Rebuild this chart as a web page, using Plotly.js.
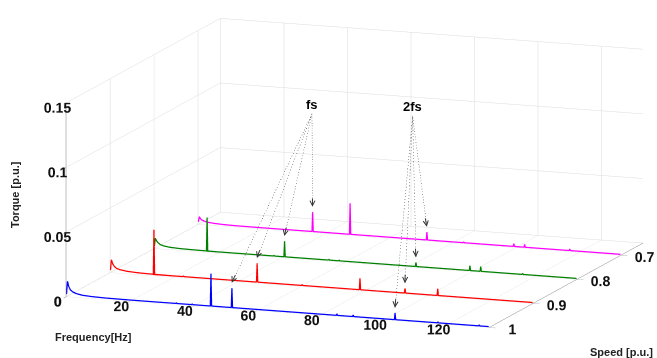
<!DOCTYPE html>
<html><head><meta charset="utf-8">
<script src="https://cdn.plot.ly/plotly-3.0.1.min.js"></script>
<style>html,body{margin:0;padding:0;background:#fff}#chart{width:657px;height:358px}</style>
</head><body><div id="chart"></div>
<script>
// ---- data ----
const speeds = [1.0, 0.9, 0.8, 0.7];
const colors = ['#0000ff', '#ff0000', '#008000', '#ff00ff'];
// low-frequency tail (Hz, torque) for each speed
const tailFreq = [0, 0.3, 0.7, 1.2, 2, 3, 5, 8, 12, 20];
const tailBlue    = [0.002, 0.012, 0.008, 0.0055, 0.004, 0.003, 0.002, 0.0015, 0.0012, 0.001];
const tailRed     = [0.002, 0.010, 0.007, 0.005, 0.0035, 0.0028, 0.002, 0.0015, 0.0012, 0.001];
const tailGreen   = [0.002, 0.008, 0.006, 0.0045, 0.0032, 0.0025, 0.0018, 0.0014, 0.0012, 0.001];
const tailMagenta = [0.002, 0.006, 0.0045, 0.0035, 0.0028, 0.0022, 0.0017, 0.0013, 0.0011, 0.001];
const baseEnd = [0.0007, 0.0007, 0.0007, 0.0007];   // floor level at 133 Hz
// spectral lines (Hz) and their torque peaks (p.u.)
const peakFreqBlue    = [34.6, 39.6, 45.5, 52.1, 85.2, 90.3, 103.5, 117, 130];
const peakTorqBlue    = [0.0015, 0.0015, 0.026, 0.016, 0.002, 0.002, 0.006, 0.0015, 0.0015];
const peakFreqRed     = [13.7, 23, 46.2, 60.4, 78.6, 92.8, 103.1];
const peakTorqRed     = [0.0356, 0.0015, 0.0155, 0.0015, 0.0097, 0.0044, 0.006];
const peakFreqGreen   = [16.6, 37.7, 41, 55, 58.2, 82.4, 99.4, 102.8, 116];
const peakTorqGreen   = [0.027, 0.0015, 0.013, 0.0015, 0.0015, 0.004, 0.0045, 0.0045, 0.0015];
const peakFreqMagenta = [36, 47.8, 72, 83.6, 99.4, 102.8, 117];
const peakTorqMagenta = [0.016, 0.025, 0.007, 0.0015, 0.003, 0.003, 0.002];
const fMax = 133;
// annotated components: index of the fs and 2fs line in each series
const fsIndex  = [3, 2, 2, 0];
const f2sIndex = [6, 5, 5, 2];
const fsLabel  = {f: 35.8, s: 0.7, t: 0.092};
const f2sLabel = {f: 67.5, s: 0.7, t: 0.096};
const xTicks = [0, 20, 40, 60, 80, 100, 120];
const yTicks = [0.7, 0.8, 0.9, 1];
const yTickText = ['0.7', '0.8', '0.9', '1'];
const zTicks = [0, 0.05, 0.1, 0.15];
const zTickText = ['0', '0.05', '0.1', '0.15'];

const tails = [tailBlue, tailRed, tailGreen, tailMagenta];
const pf = [peakFreqBlue, peakFreqRed, peakFreqGreen, peakFreqMagenta];
const pt = [peakTorqBlue, peakTorqRed, peakTorqGreen, peakTorqMagenta];

function floorAt(k, f) {
  const t = tails[k];
  const last = t[t.length - 1], lf = tailFreq[tailFreq.length - 1];
  if (f <= lf) return last;
  return last + (baseEnd[k] - last) * (f - lf) / (fMax - lf);
}

// Plotly x = speed, Plotly y = frequency, z = torque
const traces = [];
for (let k = 0; k < 4; k++) {
  const fs = tailFreq.slice(), zs = tails[k].slice();
  pf[k].forEach((f, i) => {
    const b = floorAt(k, f);
    fs.push(f - 0.2, f, f + 0.2); zs.push(b, pt[k][i], b);
  });
  fs.push(fMax); zs.push(baseEnd[k]);
  traces.push({type: 'scatter3d', mode: 'lines', y: fs, x: fs.map(() => speeds[k]), z: zs,
    line: {color: colors[k], width: 2.5}, hoverinfo: 'skip', showlegend: false});
}
// dotted leader lines
function leader(lbl, idx) {
  const X = [], Y = [], Z = [];
  for (let k = 0; k < 4; k++) {
    const f = pf[k][idx[k]], t = pt[k][idx[k]];
    Y.push(lbl.f, f, null); X.push(lbl.s, speeds[k], null); Z.push(lbl.t, t + 0.004, null);
  }
  return {type: 'scatter3d', mode: 'lines', x: X, y: Y, z: Z, connectgaps: false,
    line: {color: '#444', width: 1, dash: 'dot'}, hoverinfo: 'skip', showlegend: false};
}
traces.push(leader(fsLabel, fsIndex), leader(f2sLabel, f2sIndex));

const lblFont = {family: 'Liberation Sans', size: 13, color: '#000', weight: 'bold'};
const ann3d = [
  {y: fsLabel.f, x: fsLabel.s, z: fsLabel.t, text: 'fs', showarrow: false, yanchor: 'bottom', font: lblFont},
  {y: f2sLabel.f, x: f2sLabel.s, z: f2sLabel.t, text: '2fs', showarrow: false, yanchor: 'bottom', font: lblFont}
];
const fsDir  = [[4.2, -9.1], [3.4, -9.4], [2.1, -9.8], [0, -10]];
const f2sDir = [[0.9, -10], [0.3, -10], [-0.4, -10], [-1.7, -9.9]];
for (let k = 0; k < 4; k++) {
  [[fsIndex, fsDir], [f2sIndex, f2sDir]].forEach(([idx, dir]) => {
    ann3d.push({y: pf[k][idx[k]], x: speeds[k], z: pt[k][idx[k]] + 0.004, text: '', showarrow: true,
      arrowhead: 5, arrowsize: 1, arrowwidth: 1, arrowcolor: '#333', ax: dir[k][0], ay: dir[k][1]});
  });
}

const tickFont = {family: 'Liberation Sans', size: 13, color: '#111', weight: 'bold'};
const axBase = {showbackground: false, showgrid: true, gridcolor: '#dcdcdc', gridwidth: 1,
  zeroline: false, showline: true, linecolor: '#888', linewidth: 1, ticks: 'outside',
  tickcolor: '#888', ticklen: 7, tickfont: tickFont, tickangle: 0, showspikes: false, title: {text: ''}};

const titleFont = {family: 'Liberation Sans', size: 11, color: '#222', weight: 'bold'};
const layout = {
  width: 657, height: 358, margin: {l: 0, r: 0, t: 0, b: 0}, paper_bgcolor: '#fff',
  scene: {
    domain: {x: [0.03, 1], y: [0.045, 1]},
    aspectmode: 'manual', aspectratio: {x: 2.632, y: 2.632, z: 1.157},
    camera: {eye: {x: 1.781, y: 0.550, z: 0.392}, center: {x: 0.032, y: -0.088, z: 0.012}, up: {x: 0, y: 0, z: 1},
      projection: {type: 'orthographic'}},
    yaxis: Object.assign({}, axBase, {range: [-0.1, fMax + 0.1], tickvals: xTicks, ticktext: xTicks.map(String), showline: false}),
    xaxis: Object.assign({}, axBase, {range: [0.6495, 1.0005], tickvals: yTicks, ticktext: yTickText}),
    zaxis: Object.assign({}, axBase, {range: [0, 0.15], tickvals: zTicks, ticktext: zTickText}),
    annotations: ann3d
  },
  annotations: [
    {xref: 'paper', yref: 'paper', x: 15 / 657, y: 1 - 195 / 358, text: 'Torque [p.u.]', textangle: -90,
     xanchor: 'center', yanchor: 'middle', showarrow: false, font: titleFont},
    {xref: 'paper', yref: 'paper', x: 93 / 657, y: 1 - 337 / 358, text: 'Frequency[Hz]',
     xanchor: 'center', yanchor: 'middle', showarrow: false, font: titleFont},
    {xref: 'paper', yref: 'paper', x: 621 / 657, y: 1 - 352 / 358, text: 'Speed [p.u.]',
     xanchor: 'center', yanchor: 'middle', showarrow: false, font: titleFont}
  ]
};
Plotly.newPlot('chart', traces, layout, {displayModeBar: false});
</script></body></html>
